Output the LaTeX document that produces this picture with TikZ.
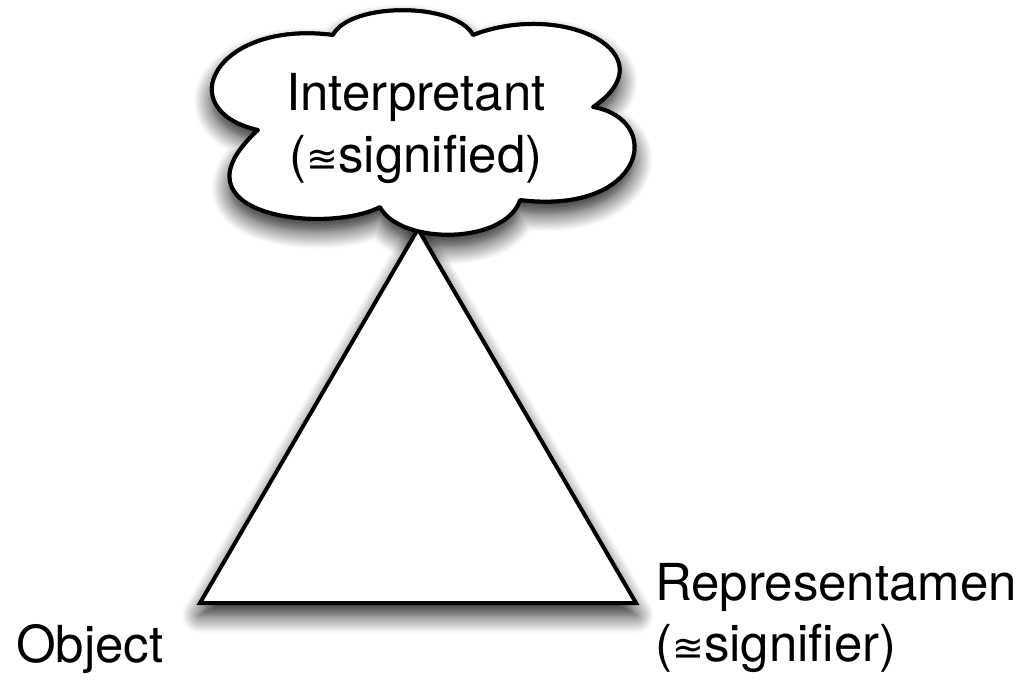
\documentclass[tikz,border=0pt]{standalone}
\usepackage{fontspec}
\setmainfont{TeX Gyre Heros}
\newfontfamily\symfont{DejaVu Sans}
\usetikzlibrary{shadows.blur}
\newcommand{\myaeq}{{\symfont\fontsize{38}{38}\selectfont ≊}}
\tikzset{
  plain line/.style={draw=black, line width=4pt, fill=white, line join=round},
  shape line/.style={plain line,
    blur shadow={shadow xshift=0pt, shadow yshift=-12pt, shadow blur radius=18pt, shadow opacity=90, shadow blur steps=12}},
  label text/.style={inner sep=0pt, font=\fontsize{51}{62}\selectfont},
}
\newcommand{\cloudpath}{(n1) .. controls (350,2) and (455,2) .. (n2)
  .. controls (565,0) and (670,55) .. (n3)
  .. controls (665,120) and (645,215) .. (n4)
  .. controls (505,245) and (400,245) .. (n5)
  .. controls (325,235) and (165,215) .. (n6)
  .. controls (170,110) and (215,20) .. (n1) -- cycle}
\begin{document}
\begin{tikzpicture}[x=1pt,y=-1pt]
\useasboundingbox (0,0) rectangle (1033,680);
% cloud corners (notches)
\coordinate (n1) at (333,35);
\coordinate (n2) at (473,35);
\coordinate (n3) at (593,107);
\coordinate (n4) at (520,200);
\coordinate (n5) at (380,207);
\coordinate (n6) at (258,130);
\draw[shape line] \cloudpath;
% triangle corners
\coordinate (apex) at (418,229);
\coordinate (L) at (200,603);
\coordinate (R) at (636,603);
\draw[shape line, line join=miter] (apex) -- (R) -- (L) -- cycle;
% cloud outline again, on top of the apex
\draw[plain line] \cloudpath;
\node[label text, align=center, anchor=center] (interp) at (416,128)
  {Interpretant\\(\myaeq signified)};
\node[label text, anchor=base west] (object) at (16,662) {Object};
\node[label text, anchor=base west] (repr) at (655,600) {Representamen};
\node[label text, anchor=base west] (signifier) at (655,661) {(\myaeq signifier)};
\end{tikzpicture}
\end{document}
